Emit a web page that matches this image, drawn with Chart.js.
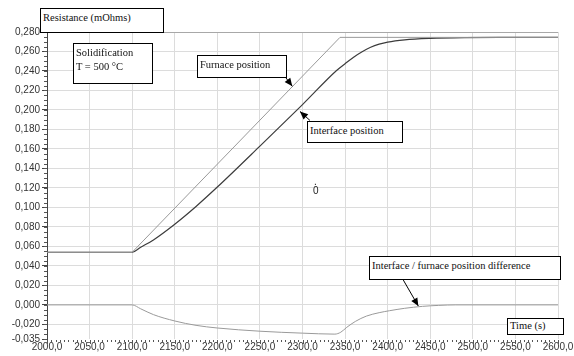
<!DOCTYPE html>
<html>
<head>
<meta charset="utf-8">
<script src="https://cdn.jsdelivr.net/npm/chart.js@4.4.1/dist/chart.umd.min.js"></script>
<style>
    html, body { margin: 0; padding: 0; background: #fff; }
    #wrap { position: relative; width: 574px; height: 356px; overflow: hidden; }
    #chart { position: absolute; left: 0; top: 0; }
    .box {
        position: absolute; background: #fff; border: 1px solid #000; box-sizing: border-box;
        font-family: "Liberation Serif", "Times New Roman", serif; font-size: 10.5px; color: #111;
        line-height: 14px; padding: 2px 2px; white-space: nowrap;
    }
    .mark { position: absolute; font-family: "Liberation Sans", Arial, sans-serif; font-size: 10px; line-height: 10px; color: #222; }
    .mark span { position: absolute; left: 1px; top: -9px; }
</style>
</head>
<body>
<div id="wrap">
    <canvas id="chart" width="574" height="356"></canvas>
    <div class="box" style="left:40px;top:8px;width:124px;height:25px;">Resistance (mOhms)</div>
    <div class="box" style="left:73px;top:43px;width:80px;height:41px;">Solidification<br>T = 500 °C</div>
    <div class="box" style="left:197px;top:55px;width:90px;height:23px;">Furnace position</div>
    <div class="box" style="left:307px;top:121px;width:96px;height:22px;">Interface position</div>
    <div class="box" style="left:369px;top:256px;width:192px;height:24px;">Interface / furnace position difference</div>
    <div class="box" style="left:507px;top:318px;width:57px;height:17px;line-height:12px;padding-top:1px;">Time (s)</div>
    <div class="mark" style="left:313px;top:186px;">0<span>.</span></div>
</div>
<script>
// --- Dati ---
const furnaceTime = [2000, 2100, 2344, 2600];
const furnaceRes = [0.054, 0.054, 0.2745, 0.2745];

const interfaceTime = [2000, 2100, 2110, 2125, 2150, 2175, 2200, 2250, 2300, 2340, 2350, 2360, 2370, 2380, 2390, 2400, 2420, 2450, 2490, 2530, 2600];
const interfaceRes = [0.054, 0.054, 0.0591, 0.0667, 0.0828, 0.101, 0.1209, 0.1629, 0.2055, 0.2405, 0.2475, 0.2542, 0.2598, 0.2643, 0.2675, 0.2697, 0.2720, 0.2735, 0.2743, 0.2745, 0.2745];

const diffTime = [2000, 2100, 2110, 2125, 2150, 2175, 2200, 2250, 2300, 2338, 2345, 2352, 2362, 2375, 2390, 2402, 2420, 2441, 2460, 2480, 2600];
const diffRes = [0, 0, -0.004, -0.010, -0.0165, -0.021, -0.0237, -0.027, -0.029, -0.030, -0.028, -0.023, -0.017, -0.0115, -0.008, -0.006, -0.0035, -0.0015, -0.0005, 0, 0];

const yTicks = [-0.035, -0.02, 0, 0.02, 0.04, 0.06, 0.08, 0.1, 0.12, 0.14, 0.16, 0.18, 0.2, 0.22, 0.24, 0.26, 0.28];
const xMin = 2000, xMax = 2600, xStep = 50;

// frecce: punta in coordinate dati, coda come spostamento in pixel
const arrows = [
    { x: 2288, y: 0.2243, dx: -9, dy: -12 },
    { x: 2297, y: 0.1985, dx: 10, dy: 9 },
    { x: 2436, y: -0.0012, dx: -15, dy: -26 }
];

function pts(xs, ys) { return xs.map((x, i) => ({ x: x, y: ys[i] })); }

const tickFont = { family: '"Liberation Sans", Arial, sans-serif', size: 10 };

// --- Plugin: tacche minori e frecce ---
const extras = {
    id: 'extras',
    afterDraw(chart) {
        const ctx = chart.ctx, xs = chart.scales.x, ys = chart.scales.y, area = chart.chartArea;
        ctx.save();
        ctx.strokeStyle = '#555';
        ctx.lineWidth = 1;
        ctx.beginPath();
        for (let v = -0.035; v <= 0.2801; v += 0.005) {
            const y = Math.round(ys.getPixelForValue(v)) + 0.5;
            ctx.moveTo(area.left - 3, y); ctx.lineTo(area.left, y);
        }
        for (let t = xMin; t <= xMax; t += 5) {
            const x = Math.round(xs.getPixelForValue(t)) + 0.5;
            const len = (t % 50 === 0) ? 4 : 2;
            ctx.moveTo(x, area.bottom + 1); ctx.lineTo(x, area.bottom + 1 + len);
        }
        ctx.stroke();

        ctx.strokeStyle = '#000';
        ctx.fillStyle = '#000';
        arrows.forEach(a => {
            const tx = xs.getPixelForValue(a.x), ty = ys.getPixelForValue(a.y);
            const fx = tx + a.dx, fy = ty + a.dy;
            const ang = Math.atan2(ty - fy, tx - fx);
            ctx.beginPath(); ctx.moveTo(fx, fy); ctx.lineTo(tx, ty); ctx.stroke();
            ctx.beginPath();
            ctx.moveTo(tx, ty);
            ctx.lineTo(tx - 8 * Math.cos(ang) + 3.5 * Math.sin(ang), ty - 8 * Math.sin(ang) - 3.5 * Math.cos(ang));
            ctx.lineTo(tx - 8 * Math.cos(ang) - 3.5 * Math.sin(ang), ty - 8 * Math.sin(ang) + 3.5 * Math.cos(ang));
            ctx.closePath(); ctx.fill();
        });
        ctx.restore();
    }
};

new Chart(document.getElementById('chart'), {
    type: 'line',
    data: {
        datasets: [
            { label: 'Furnace position', data: pts(furnaceTime, furnaceRes), borderColor: '#999', borderWidth: 1, pointRadius: 0, tension: 0 },
            { label: 'Interface position', data: pts(interfaceTime, interfaceRes), borderColor: '#3c3c3c', borderWidth: 1.2, pointRadius: 0, cubicInterpolationMode: 'monotone' },
            { label: 'Interface / furnace position difference', data: pts(diffTime, diffRes), borderColor: '#9a9a9a', borderWidth: 1, pointRadius: 0, cubicInterpolationMode: 'monotone' }
        ]
    },
    options: {
        responsive: false, animation: false,
        layout: { padding: { top: 32, right: 16, left: 0, bottom: 0 } },
        plugins: { legend: { display: false }, tooltip: { enabled: false } },
        scales: {
            x: {
                type: 'linear', min: xMin, max: xMax,
                ticks: { stepSize: xStep, color: '#333', font: tickFont, padding: 2, maxRotation: 0,
                    callback: v => v.toFixed(1).replace('.', ',') },
                grid: { color: '#dcdcdc', drawTicks: false, tickLength: 4 },
                border: { display: false },
                afterFit: s => { s.height = 17; s.paddingLeft = 0; s.paddingRight = 0; }
            },
            y: {
                min: -0.035, max: 0.28,
                afterBuildTicks: s => { s.ticks = yTicks.map(v => ({ value: v })); },
                ticks: { color: '#333', font: tickFont, padding: 2,
                    callback: v => v.toFixed(3).replace('.', ',') },
                grid: {
                    color: c => (c.tick && c.tick.value === 0.28) ? '#a8a8a8' : (c.tick && c.tick.value === -0.035 ? 'rgba(0,0,0,0)' : '#dcdcdc'),
                    drawTicks: true, tickLength: 5, tickColor: '#444'
                },
                border: { display: true, color: '#444' },
                afterFit: s => { s.width = 47; }
            }
        }
    },
    plugins: [extras]
});
</script>
</body>
</html>
